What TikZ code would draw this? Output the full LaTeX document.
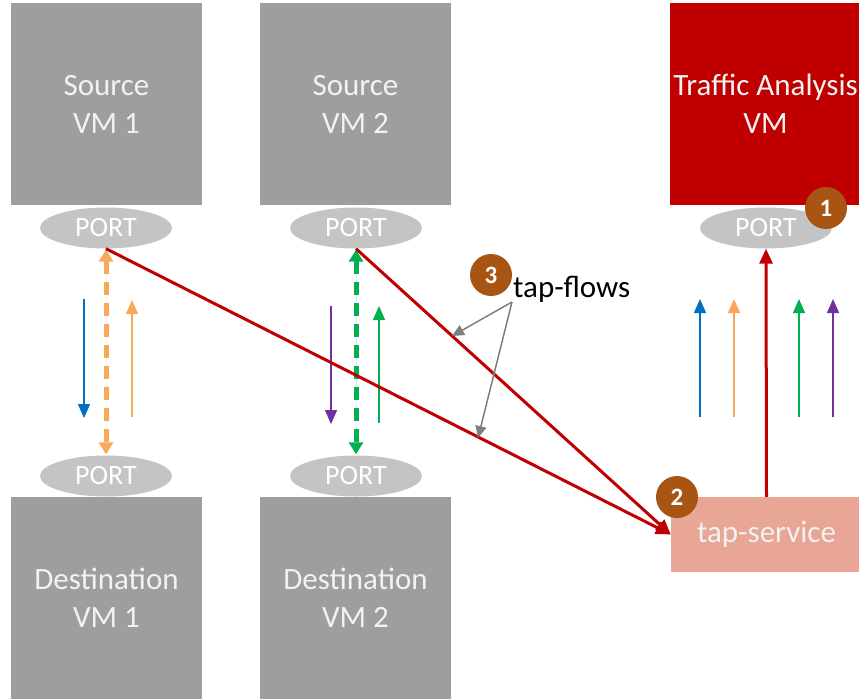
\documentclass[tikz,border=0pt]{standalone}
\usepackage{fontspec}
\setmainfont{Carlito}
\usetikzlibrary{arrows.meta,shapes.geometric}
\definecolor{vmgray}{HTML}{9E9E9E}
\definecolor{portgray}{HTML}{C4C4C4}
\definecolor{tared}{HTML}{C00000}
\definecolor{tapfill}{HTML}{E9A595}
\definecolor{badge}{HTML}{A85412}
\definecolor{fgorange}{HTML}{F9A75A}
\definecolor{fgblue}{HTML}{0070C0}
\definecolor{fggreen}{HTML}{00B050}
\definecolor{fgpurple}{HTML}{7030A0}
\definecolor{txtwhite}{HTML}{F2F2F2}
\definecolor{callout}{HTML}{7F7F7F}

\begin{document}
\begin{tikzpicture}[x=1pt,y=-1pt,
  vmbox/.style={rectangle, fill=vmgray, minimum width=191pt, minimum height=202pt,
    inner sep=0pt, text=txtwhite, font=\fontsize{31}{38}\selectfont, align=center},
  port/.style={ellipse, fill=portgray, minimum width=132pt, minimum height=41pt,
    inner sep=0pt, text=white, font=\fontsize{28}{30}\selectfont},
  badgec/.style={circle, fill=badge, minimum size=42pt, inner sep=0pt, text=white,
    font=\fontsize{25}{26}\selectfont\bfseries},
  flow/.style={line width=1.4pt, -{Triangle[length=14pt,width=12pt]}},
  mirror/.style={line width=5pt, dash pattern=on 13pt off 8pt,
    {Triangle[length=12pt,width=14pt]}-{Triangle[length=12pt,width=14pt]}, shorten <=1pt, shorten >=1pt},
  tapline/.style={draw=tared, line width=3pt, -{Triangle[length=15pt,width=13pt]}},
  pointer/.style={draw=callout, line width=1.5pt, -{Triangle[length=12pt,width=11pt]}}
]
\useasboundingbox (0,0) rectangle (859,699);
\clip (0,0) rectangle (859,699);

% virtual machines
\node[vmbox] (src1) at (106.5,104) {Source\\VM 1};
\node[vmbox] (src2) at (355.5,104) {Source\\VM 2};
\node[vmbox, fill=tared] (ta) at (765.5,104) {Traffic Analysis\\VM};
\node[vmbox] (dst1) at (106.5,598) {Destination\\VM 1};
\node[vmbox] (dst2) at (355.5,598) {Destination\\VM 2};

% tap service
\node[rectangle, fill=tapfill, minimum width=191pt, minimum height=75pt, inner sep=0pt,
  text=txtwhite, font=\fontsize{31}{36}\selectfont] (tap) at (766.5,534.5) {tap-service};

% ports
\node[port] (p1t) at (106,228) {PORT};
\node[port] (p2t) at (356,228) {PORT};
\node[port] (p1b) at (106,476) {PORT};
\node[port] (p2b) at (356,476) {PORT};
\node[port] (pta) at (766,228) {PORT};

% mirrored port pairs
\draw[mirror, draw=fgorange, fill=fgorange] (p1t.south) -- (p1b.north);
\draw[mirror, draw=fggreen, fill=fggreen] (p2t.south) -- (p2b.north);

% individual traffic flows
\coordinate (b1s) at (84,299);  \coordinate (b1e) at (84,418);
\coordinate (o1s) at (132,417); \coordinate (o1e) at (132,300);
\coordinate (u2s) at (331,306); \coordinate (u2e) at (331,424);
\coordinate (g2s) at (379,423); \coordinate (g2e) at (379,306);
\draw[flow, draw=fgblue, fill=fgblue] (b1s) -- (b1e);
\draw[flow, draw=fgorange, fill=fgorange] (o1s) -- (o1e);
\draw[flow, draw=fgpurple, fill=fgpurple] (u2s) -- (u2e);
\draw[flow, draw=fggreen, fill=fggreen] (g2s) -- (g2e);

% copied flows towards the analysis VM
\coordinate (rbs) at (700,417); \coordinate (rbe) at (700,299);
\coordinate (ros) at (734,417); \coordinate (roe) at (734,299);
\coordinate (rgs) at (799,417); \coordinate (rge) at (799,299);
\coordinate (rus) at (833,417); \coordinate (rue) at (833,299);
\draw[flow, draw=fgblue, fill=fgblue] (rbs) -- (rbe);
\draw[flow, draw=fgorange, fill=fgorange] (ros) -- (roe);
\draw[flow, draw=fggreen, fill=fggreen] (rgs) -- (rge);
\draw[flow, draw=fgpurple, fill=fgpurple] (rus) -- (rue);

% tap flows into the tap service
\draw[tapline, fill=tared] (p1t.south) -- (tap.west);
\draw[tapline, fill=tared] (p2t.south) -- (tap.west);
\draw[tapline, fill=tared] (tap.north) -- (pta.south);

% callout
\node[anchor=base west, inner sep=0pt, font=\fontsize{31}{36}\selectfont] (tf) at (513,297) {tap-flows};
\coordinate (tfo) at (512,302);
\coordinate (tfa) at (452,336);
\coordinate (tfb) at (478,438);
\draw[pointer, fill=callout!80!black] (tfo) -- (tfa);
\draw[pointer, fill=callout!80!black] (tfo) -- (tfb);

% step badges
\node[badgec] (n1) at (826,208) {1};
\node[badgec] (n2) at (677,497) {2};
\node[badgec] (n3) at (491,275) {3};
\end{tikzpicture}
\end{document}
